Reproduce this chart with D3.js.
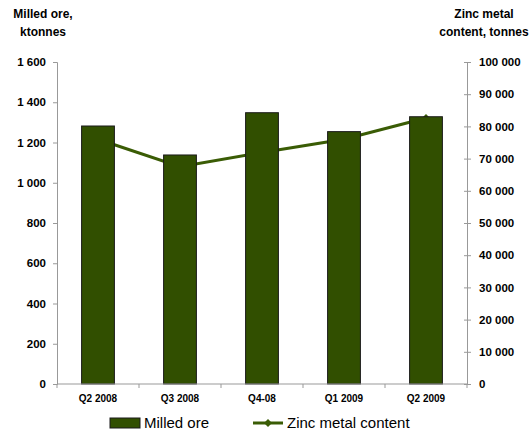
<!DOCTYPE html>
<html><head><meta charset="utf-8">
<script src="https://cdn.jsdelivr.net/npm/d3@7"></script>
<style>body{margin:0;background:#fff}svg{display:block;font-family:"Liberation Sans",Arial,sans-serif}</style>
</head><body>
<svg id="c" width="532" height="432"></svg>
<script>
const categories = ["Q2 2008","Q3 2008","Q4-08","Q1 2009","Q2 2009"];
const milledOre = [1282, 1138, 1348, 1254, 1328];
const zincContent = [76000, 67500, 71900, 76000, 82600];
const leftTicks = [0,200,400,600,800,1000,1200,1400,1600];
const rightTicks = [0,10000,20000,30000,40000,50000,60000,70000,80000,90000,100000];

const svg = d3.select("#c");
const L = 57, R = 467, T = 62, B = 384;
const fmt = v => d3.format(",")(v).replace(/,/g, " ");
const x = d3.scaleBand().domain(categories).range([L, R]).paddingInner(0.6).paddingOuter(0.3);
const xc = d3.scalePoint().domain(categories).range([L, R]).padding(0.5);
const yL = d3.scaleLinear().domain([0,1600]).range([B, T]);
const yR = d3.scaleLinear().domain([0,100000]).range([B, T]);
const barColor = "#314f00", lineColor = "#3a5c05", axisColor = "#999";

// line (drawn behind the bars)
const line = d3.line().x((d,i) => xc(categories[i])).y(d => yR(d));
svg.append("path").datum(zincContent).attr("d", line)
  .attr("fill", "none").attr("stroke", lineColor).attr("stroke-width", 3);
svg.append("g").selectAll("path").data(zincContent).join("path")
  .attr("transform", (d,i) => `translate(${xc(categories[i])},${yR(d)})`)
  .attr("d", d3.symbol().type(d3.symbolDiamond2).size(40))
  .attr("fill", lineColor);

// bars
svg.append("g").selectAll("rect").data(milledOre).join("rect")
  .attr("x", (d,i) => x(categories[i]))
  .attr("width", x.bandwidth())
  .attr("y", d => yL(d))
  .attr("height", d => B - yL(d))
  .attr("fill", barColor).attr("stroke", "#1a1a1a").attr("stroke-width", 1);

// left axis
const gl = svg.append("g").attr("transform", `translate(${L},0)`)
  .call(d3.axisLeft(yL).tickValues(leftTicks).tickFormat(fmt).tickSize(4).tickPadding(7));
// right axis
const gr = svg.append("g").attr("transform", `translate(${R},0)`)
  .call(d3.axisRight(yR).tickValues(rightTicks).tickFormat(fmt).tickSize(4).tickPadding(8));
gr.selectAll(".tick line").attr("x1", -3);
// bottom axis
const gb = svg.append("g").attr("transform", `translate(0,${B})`)
  .call(d3.axisBottom(x).tickSize(0).tickPadding(11));
gb.select(".domain").attr("d", `M${L},0H${R}`);
const bounds = d3.range(categories.length + 1).map(i => L + i * (R - L) / categories.length);
gb.selectAll(".sep").data(bounds).join("line").attr("class","sep")
  .attr("x1", d => d).attr("x2", d => d).attr("y1", 0).attr("y2", 4).attr("stroke", axisColor);

[gl, gr, gb].forEach(g => {
  g.selectAll(".domain").attr("stroke", axisColor);
  g.selectAll(".tick line").attr("stroke", axisColor);
  g.selectAll("text").attr("fill", "#000").attr("font-weight", "bold")
    .attr("font-family", "'Liberation Sans',Arial,sans-serif");
});
gl.selectAll("text").attr("font-size", 11.5);
gr.selectAll("text").attr("font-size", 11.5);
gb.selectAll("text").attr("font-size", 10);

// axis titles
const title = (xp, lines) => {
  const t = svg.append("text").attr("text-anchor","middle").attr("font-weight","bold").attr("font-size",12);
  lines.forEach((s,i) => t.append("tspan").attr("x", xp).attr("y", 18 + i*18).text(s));
};
title(43, ["Milled ore,", "ktonnes"]);
title(484, ["Zinc metal", "content, tonnes"]);

// legend
const lg = svg.append("g");
lg.append("rect").attr("x", 110).attr("y", 418).attr("width", 30).attr("height", 10)
  .attr("fill", barColor).attr("stroke", "#1a1a1a");
lg.append("text").attr("x", 144).attr("y", 428).attr("font-size", 15).text("Milled ore");
lg.append("line").attr("x1", 253).attr("x2", 283).attr("y1", 423).attr("y2", 423)
  .attr("stroke", lineColor).attr("stroke-width", 3);
lg.append("path").attr("transform","translate(268,423)").attr("d", d3.symbol().type(d3.symbolDiamond2).size(40)).attr("fill", lineColor);
lg.append("text").attr("x", 287).attr("y", 428).attr("font-size", 15).text("Zinc metal content");
</script>
</body></html>
